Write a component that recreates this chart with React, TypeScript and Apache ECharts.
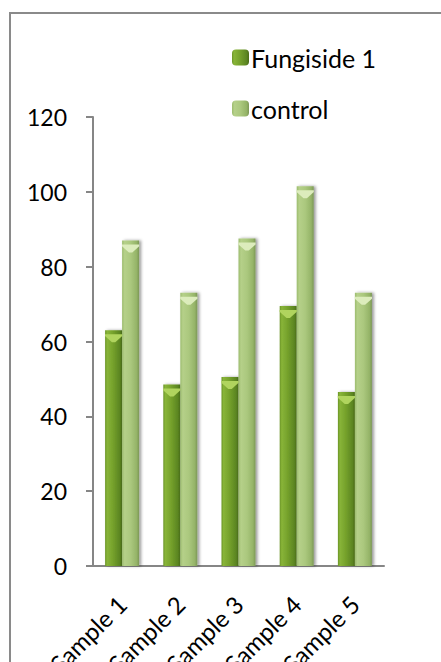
import React, { useEffect, useRef } from "react";
import * as echarts from "echarts";

const categories = ["Sample 1", "Sample 2", "Sample 3", "Sample 4", "Sample 5"];
const fungisideValues = [63, 48.5, 50.5, 69.5, 46.5];
const controlValues = [87, 73, 87.5, 101.5, 73];
const yTicks = { min: 0, max: 120, interval: 20 };

const FONT = "Lato, 'Noto Sans', sans-serif";

const fungisideFill = new echarts.graphic.LinearGradient(0, 0, 1, 0, [
  { offset: 0, color: "#6a9426" },
  { offset: 0.12, color: "#88b438" },
  { offset: 0.45, color: "#76a22c" },
  { offset: 0.85, color: "#5c8622" },
  { offset: 1, color: "#4a6c18" },
]);

const controlFill = new echarts.graphic.LinearGradient(0, 0, 1, 0, [
  { offset: 0, color: "#9cbc6e" },
  { offset: 0.15, color: "#b5d089" },
  { offset: 0.5, color: "#abc87e" },
  { offset: 0.85, color: "#95b468" },
  { offset: 1, color: "#7c9756" },
]);

const BAR_W = 17;
const capSymbol = "path://M0,0L20,0L20,2L12,9L8,9L0,2Z";

export default function App() {
  const ref = useRef<HTMLDivElement>(null);

  useEffect(() => {
    if (!ref.current) return;
    const chart = echarts.init(ref.current, null, { renderer: "svg" });
    chart.setOption({
      animation: false,
      backgroundColor: "#ffffff",
      textStyle: { fontFamily: FONT },
      graphic: [
        {
          type: "rect",
          shape: { x: 10, y: 13, width: 445, height: 700 },
          style: { fill: "none", stroke: "#8a8a8a", lineWidth: 2 },
          silent: true,
        },
      ],
      legend: {
        orient: "vertical",
        left: 227,
        top: 40,
        itemWidth: 17,
        itemHeight: 16,
        itemGap: 26,
        data: ["Fungiside 1", "control"],
        textStyle: { fontFamily: FONT, fontSize: 25, color: "#000", padding: [0, 0, 0, -3] },
      },
      grid: { left: 93, right: 57, top: 117, bottom: 96, outerBoundsMode: "none", containLabel: false },
      xAxis: {
        type: "category",
        data: categories,
        axisLine: { lineStyle: { color: "#868686", width: 2 } },
        axisTick: { length: 7, lineStyle: { color: "#868686", width: 2 } },
        axisLabel: {
          rotate: 45,
          margin: 34,
          fontSize: 24,
          fontFamily: FONT,
          color: "#000",
        },
      },
      yAxis: {
        type: "value",
        min: yTicks.min,
        max: yTicks.max,
        interval: yTicks.interval,
        splitLine: { show: false },
        axisLine: { show: true, lineStyle: { color: "#868686", width: 2 } },
        axisTick: { show: true, length: 7, lineStyle: { color: "#868686", width: 2 } },
        axisLabel: { margin: 26, fontSize: 23, fontFamily: FONT, color: "#000" },
      },
      series: [
        {
          name: "Fungiside 1",
          type: "bar",
          data: fungisideValues,
          barWidth: BAR_W,
          barGap: "0%",
          itemStyle: {
            color: fungisideFill,
            shadowColor: "rgba(0,0,0,0.35)",
            shadowBlur: 3,
            shadowOffsetX: 2,
          },
        },
        {
          name: "control",
          type: "bar",
          data: controlValues,
          barWidth: BAR_W,
          barGap: "0%",
          itemStyle: {
            color: controlFill,
            shadowColor: "rgba(0,0,0,0.4)",
            shadowBlur: 3,
            shadowOffsetX: 2,
          },
        },
        {
          name: "cap-f",
          type: "pictorialBar",
          data: fungisideValues,
          barWidth: BAR_W,
          barGap: "0%",
          symbol: capSymbol,
          symbolSize: [BAR_W, 8],
          symbolPosition: "end",
          symbolOffset: [0, "50%"],
          itemStyle: { color: "#b0d45e" },
          z: 3,
          silent: true,
        },
        {
          name: "cap-c",
          type: "pictorialBar",
          data: controlValues,
          barWidth: BAR_W,
          barGap: "0%",
          symbol: capSymbol,
          symbolSize: [BAR_W, 8],
          symbolPosition: "end",
          symbolOffset: [0, "50%"],
          itemStyle: { color: "#dcecbc" },
          z: 3,
          silent: true,
        },
      ],
    });
    return () => chart.dispose();
  }, []);

  return (
    <div
      ref={ref}
      style={{ position: "fixed", left: 0, top: 0, width: 441, height: 662 }}
    />
  );
}
